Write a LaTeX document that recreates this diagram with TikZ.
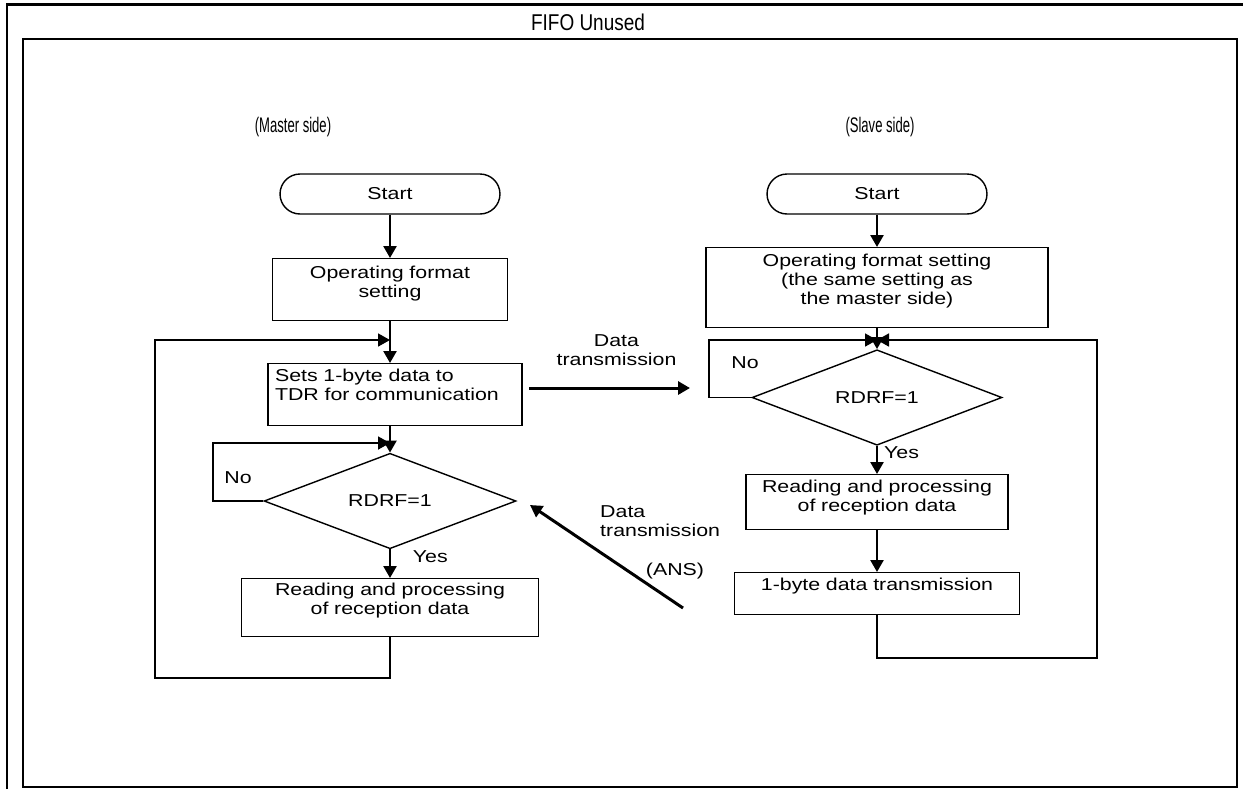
\documentclass[tikz,border=0pt]{standalone}
\usepackage{fontspec}
\setmainfont{Liberation Sans}
\newfontfamily\flowfont[FakeStretch=1.24]{Liberation Sans}
\newfontfamily\sidefont[FakeStretch=0.62]{Liberation Sans}
\newfontfamily\titlefont[FakeStretch=0.83]{Liberation Sans}
\newcommand{\flowtext}{\flowfont\fontsize{9.8}{10.8}\selectfont}
\newcommand{\sidetext}{\sidefont\fontsize{12}{14}\selectfont}
\usetikzlibrary{arrows.meta,shapes.geometric}

\begin{document}
\begin{tikzpicture}[x=0.02cm, y=-0.02cm,
  >={Triangle[length=0.24cm,width=0.26cm]},
  frame/.style={line width=1.2pt},
  proc/.style={draw, line width=0.8pt, anchor=north, inner sep=2pt,
    align=center, font=\flowtext},
  term/.style={draw, line width=0.8pt, rounded corners=0.4cm,
    minimum width=4.4cm, minimum height=0.8cm, font=\flowtext},
  dec/.style={draw, diamond, line width=0.8pt, inner sep=0pt,
    minimum width=5.04cm, minimum height=1.34cm, font=\flowtext},
  arr/.style={->, line width=1.4pt},
  loopline/.style={->, line width=1pt},
  dataarr/.style={->, line width=1.7pt},
  lbl/.style={font=\flowtext, align=left},
  side/.style={font=\sidetext}
]
\useasboundingbox (0,0) rectangle (1243,789);

% Frames and title
\draw[frame] (7,789) -- (7,4.5) -- (1243,4.5);
\draw[frame] (23,39) rectangle (1237,787);
\node[font=\titlefont\fontsize{13}{15}\selectfont] (title) at (588,22) {FIFO Unused};

% Master side
\node[side] (mside) at (293,127) {(Master side)};
\node[term] (mstart) at (390,194) {Start};
\node[proc, text width=4.56cm, text height=9.3pt, text depth=21.9pt] (mfmt) at (390,258) {Operating format\\setting};
\node[proc, align=left, inner xsep=4pt, text width=4.8cm, text height=8.2pt, text depth=23pt] (msets) at (395,363) {Sets 1-byte data to\\TDR for communication};
\node[dec] (mdiam) at (390,501) {RDRF=1};
\node[proc, text width=5.8cm, text height=7.6pt, text depth=21.3pt] (mread) at (390,578) {Reading and processing\\of reception data};
\node[lbl] (mno) at (238,478) {No};

\coordinate (mjoin) at (390,340);
\coordinate (mnojoin) at (390,443);

\draw[arr] (mstart) -- (mfmt);
\draw[arr] (mfmt.south) -- (mfmt.south |- msets.north);
\draw[arr] (mfmt.south |- msets.south) -- (mdiam.north);
\draw[arr] (mdiam) -- node[lbl, pos=0.25, right=9pt]{Yes} (mread);
\draw[loopline] (mdiam.west) -- ++(-50,0) |- (mnojoin);
\draw[loopline] (mread.south) -- ++(0,41) -| (155,340) -- (mjoin);

% Slave side
\node[side] (sside) at (880,127) {(Slave side)};
\node[term] (sstart) at (877,194) {Start};
\node[proc, text width=6.7cm, text height=8.8pt, text depth=32.6pt] (sfmt) at (877,247) {Operating format setting\\(the same setting as\\the master side)};
\node[dec, minimum width=5cm] (sdiam) at (877,397.5) {RDRF=1};
\node[proc, text width=5.1cm, text height=8.2pt, text depth=19pt] (sread) at (877,474) {Reading and processing\\of reception data};
\node[proc, text width=5.56cm, text height=8.2pt, text depth=11.6pt] (ssend) at (877,572) {1-byte data transmission};
\node[lbl] (sno) at (745,363) {No};

\coordinate (sjoin) at (877,340);

\draw[arr] (sstart) -- (sfmt);
\draw[arr] (sfmt) -- (sdiam);
\draw[arr] (sdiam) -- node[lbl, pos=0.23, right]{Yes} (sread);
\draw[arr] (sread) -- (ssend);
\draw[loopline] (sdiam.west) -- ++(-42,0) |- (sjoin);
\draw[loopline] (ssend.south) -- ++(0,43) -| (1097,340) -- (sjoin);

% Data transmission between the sides
\coordinate (txa) at (529,388);
\coordinate (txb) at (690,388);
\draw[dataarr] (txa) -- node[lbl, align=center, above=0.3cm, xshift=0.14cm]{Data\\transmission} (txb);

\coordinate (ansa) at (683,608);
\coordinate (ansb) at (530,505);
\draw[dataarr] (ansa) -- (ansb);
\node[lbl, anchor=west] (anstx) at (594,521) {Data\\transmission};
\node[lbl] (ans) at (675,571) {(ANS)};
\end{tikzpicture}
\end{document}
